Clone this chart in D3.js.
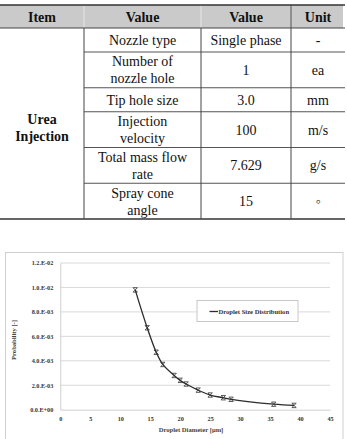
<!DOCTYPE html>
<html lang="en">
<head>
<meta charset="UTF-8">
<title>Urea injection table and droplet size distribution</title>
<script src="https://d3js.org/d3.v7.min.js"></script>
<style>
    body { margin: 0; background: #fff; }
    svg { display: block; }
</style>
</head>
<body>
<div id="fig"></div>
<script>
    // ---- table data ----
    const tableHeaders = ["Item", "Value", "Value", "Unit"];
    const itemLabel = ["Urea", "Injection"];
    const paramNames = [
        ["Nozzle type"],
        ["Number of", "nozzle hole"],
        ["Tip hole size"],
        ["Injection", "velocity"],
        ["Total mass flow", "rate"],
        ["Spray cone", "angle"]
    ];
    const paramValues = ["Single phase", "1", "3.0", "100", "7.629", "15"];
    const paramUnits = ["-", "ea", "mm", "m/s", "g/s", "\u25E6"];

    // ---- chart data ----
    const diameters = [12.5, 14.5, 16.0, 17.1, 19.0, 20.0, 21.0, 23.0, 25.0, 27.2, 28.5, 35.6, 39.0];
    const probabilities = [0.0098, 0.0067, 0.0047, 0.0037, 0.0028, 0.0024, 0.0021, 0.0016, 0.0012, 0.00098, 0.00085, 0.00045, 0.00035];
    const xTicks = [0, 5, 10, 15, 20, 25, 30, 35, 40, 45];
    const yTicks = [0, 0.002, 0.004, 0.006, 0.008, 0.010, 0.012];
    const yTickLabels = ["0.0.E+00", "2.0.E-03", "4.0.E-03", "6.0.E-03", "8.0.E-03", "1.0.E-02", "1.2.E-02"];
    const seriesName = "Droplet Size Distribution";

    const W = 347, H = 439;
    const svg = d3.select("#fig").append("svg").attr("width", W).attr("height", H);
    const serif = "'Liberation Serif', 'Times New Roman', serif";

    // ---------------- table ----------------
    const colX = [0, 84, 201, 291, 345];
    const tableTop = 5, headBottom = 28;
    const singleH = 24, doubleH = 35.75;

    const rowY = [headBottom];
    paramNames.forEach(n => rowY.push(rowY[rowY.length - 1] + (n.length > 1 ? doubleH : singleH)));
    const tableBottom = rowY[rowY.length - 1];

    const table = svg.append("g");

    // header shading
    table.append("rect")
        .attr("x", colX[0]).attr("y", tableTop)
        .attr("width", colX[4] - 2).attr("height", headBottom - tableTop)
        .attr("fill", "#cacaca");
    // header separators
    colX.slice(1, 4).forEach((x, i) => {
        table.append("line")
            .attr("x1", x).attr("x2", x).attr("y1", tableTop).attr("y2", headBottom)
            .attr("stroke", i === 2 ? "#555" : "#e6e6e6").attr("stroke-width", 1);
    });

    table.selectAll("text.head")
        .data(tableHeaders)
        .enter().append("text")
        .attr("class", "head")
        .attr("x", (d, i) => (colX[i] + colX[i + 1]) / 2)
        .attr("y", (tableTop + headBottom) / 2 + 5)
        .attr("text-anchor", "middle")
        .style("font-family", serif).attr("font-weight", "bold").attr("font-size", 14)
        .attr("fill", "#111")
        .text(d => d);

    // top border
    table.append("line")
        .attr("x1", 0).attr("x2", colX[4]).attr("y1", tableTop).attr("y2", tableTop)
        .attr("stroke", "#333").attr("stroke-width", 1.5);
    // header bottom
    table.append("line")
        .attr("x1", 0).attr("x2", colX[4]).attr("y1", headBottom).attr("y2", headBottom)
        .attr("stroke", "#444").attr("stroke-width", 1);

    // row separators (item column is merged)
    rowY.slice(1, -1).forEach(y => {
        table.append("line")
            .attr("x1", colX[1]).attr("x2", colX[4]).attr("y1", y).attr("y2", y)
            .attr("stroke", "#555").attr("stroke-width", 1);
    });
    // bottom border
    table.append("line")
        .attr("x1", 0).attr("x2", colX[4]).attr("y1", tableBottom).attr("y2", tableBottom)
        .attr("stroke", "#333").attr("stroke-width", 1.5);
    // vertical column lines in body
    colX.slice(1, 4).forEach(x => {
        table.append("line")
            .attr("x1", x).attr("x2", x).attr("y1", headBottom).attr("y2", tableBottom)
            .attr("stroke", "#444").attr("stroke-width", 1);
    });

    const lineH = 17;
    function cellText(lines, cx, y0, y1, bold) {
        const mid = (y0 + y1) / 2;
        const start = mid - (lines.length - 1) * lineH / 2 + 5;
        lines.forEach((t, k) => {
            table.append("text")
                .attr("x", cx).attr("y", start + k * lineH)
                .attr("text-anchor", "middle")
                .style("font-family", serif).attr("font-size", 14)
                .attr("font-weight", bold ? "bold" : "normal")
                .attr("fill", "#111")
                .text(t);
        });
    }

    // merged item cell spans the whole body
    cellText(itemLabel, (colX[0] + colX[1]) / 2, rowY[0] + 4, tableBottom + 4, true);
    paramNames.forEach((n, i) => {
        cellText(n, (colX[1] + colX[2]) / 2, rowY[i], rowY[i + 1], false);
        cellText([paramValues[i]], (colX[2] + colX[3]) / 2, rowY[i], rowY[i + 1], false);
        cellText([paramUnits[i]], (colX[3] + colX[4]) / 2, rowY[i], rowY[i + 1], false);
    });

    // ---------------- chart ----------------
    const chart = svg.append("g");
    chart.append("rect")
        .attr("x", 5.5).attr("y", 252.5).attr("width", 337.5).attr("height", 200)
        .attr("fill", "#fff").attr("stroke", "#cfcfcf").attr("stroke-width", 1);

    const plot = { left: 60.3, right: 330, top: 263, bottom: 409.7 };
    const x = d3.scaleLinear().domain([0, 45]).range([plot.left, plot.right]);
    const y = d3.scaleLinear().domain([0, 0.012]).range([plot.bottom, plot.top]);

    // gridlines
    chart.append("g")
        .selectAll("line")
        .data(yTicks.slice(1))
        .enter().append("line")
        .attr("x1", plot.left).attr("x2", plot.right)
        .attr("y1", d => y(d)).attr("y2", d => y(d))
        .attr("stroke", "#d9d9d9").attr("stroke-width", 1);

    // y axis
    const yAxis = chart.append("g")
        .attr("transform", `translate(${plot.left},0)`)
        .call(d3.axisLeft(y).tickValues(yTicks).tickSize(0).tickPadding(7)
            .tickFormat((d, i) => yTickLabels[i]));
    yAxis.select(".domain").attr("stroke", "#cfcfcf");
    yAxis.selectAll("text")
        .style("font-family", serif).attr("font-weight", "bold").attr("font-size", 6.2)
        .attr("fill", "#333");

    // x axis
    const xAxis = chart.append("g")
        .attr("transform", `translate(0,${plot.bottom})`)
        .call(d3.axisBottom(x).tickValues(xTicks).tickSize(0).tickPadding(7));
    xAxis.select(".domain").attr("stroke", "#cfcfcf");
    xAxis.selectAll("text")
        .style("font-family", serif).attr("font-weight", "bold").attr("font-size", 6.2)
        .attr("fill", "#333");

    // axis titles
    chart.append("text")
        .attr("x", 191).attr("y", 432)
        .attr("text-anchor", "middle")
        .style("font-family", serif).attr("font-weight", "bold").attr("font-size", 6.6)
        .attr("fill", "#444")
        .text("Droplet Diameter [\u03BCm]");
    chart.append("text")
        .attr("transform", "translate(16,340) rotate(-90)")
        .attr("text-anchor", "middle")
        .style("font-family", serif).attr("font-weight", "bold").attr("font-size", 6.6)
        .attr("fill", "#444")
        .text("Probability [-]");

    // series
    const pts = diameters.map((d, i) => [d, probabilities[i]]);
    const line = d3.line()
        .x(d => x(d[0])).y(d => y(d[1]))
        .curve(d3.curveCatmullRom.alpha(0.5));
    chart.append("path")
        .datum(pts)
        .attr("d", line)
        .attr("fill", "none").attr("stroke", "#2b2b2b").attr("stroke-width", 1.3);

    const ms = 2.2;
    const markerPath = `M${-ms},${-ms}L${ms},${ms}M${ms},${-ms}L${-ms},${ms}M${-ms},${-ms}L${ms},${-ms}M${-ms},${ms}L${ms},${ms}`;
    chart.append("g")
        .selectAll("path")
        .data(pts)
        .enter().append("path")
        .attr("transform", d => `translate(${x(d[0])},${y(d[1])})`)
        .attr("d", markerPath)
        .attr("fill", "none").attr("stroke", "#333").attr("stroke-width", 0.8);

    // legend
    const lg = chart.append("g");
    lg.append("rect")
        .attr("x", 197).attr("y", 300.5).attr("width", 101).attr("height", 21)
        .attr("fill", "#fff").attr("stroke", "#c8c8c8").attr("stroke-width", 1);
    lg.append("line")
        .attr("x1", 209.5).attr("x2", 218).attr("y1", 311.5).attr("y2", 311.5)
        .attr("stroke", "#2b2b2b").attr("stroke-width", 1.3);
    lg.append("text")
        .attr("x", 218.5).attr("y", 313.8)
        .style("font-family", serif).attr("font-weight", "bold").attr("font-size", 6.6)
        .attr("fill", "#333")
        .text(seriesName);
</script>
</body>
</html>
